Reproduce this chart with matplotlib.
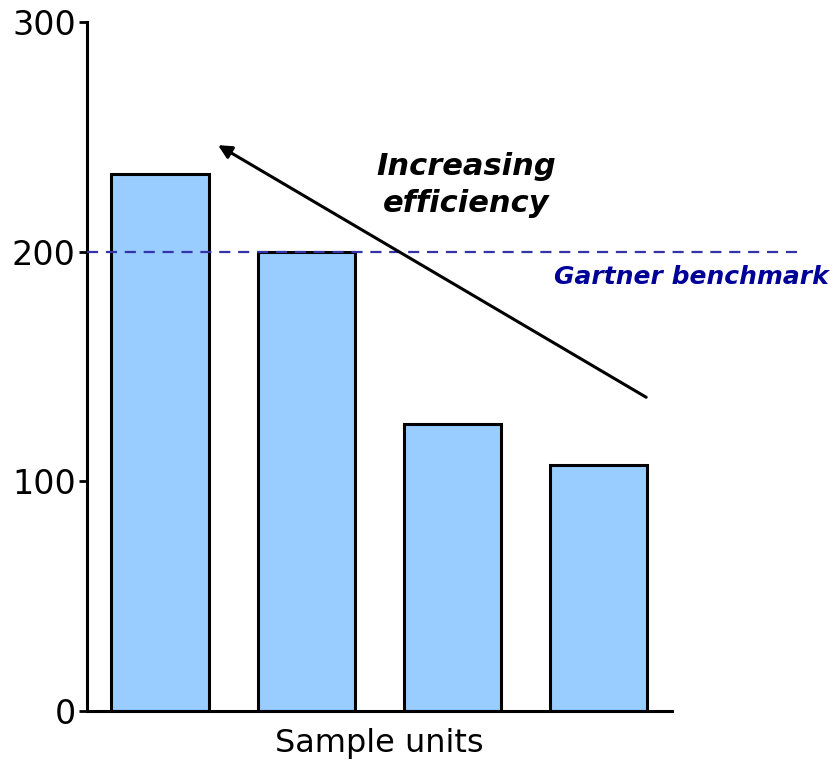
import matplotlib

matplotlib.use("Agg")
import matplotlib.pyplot as plt

# data
units = ["A", "B", "C", "D"]
values = [234, 200, 125, 107]
benchmark = 200
yticks = [0, 100, 200, 300]

fig = plt.figure(figsize=(8.33, 7.62), dpi=100)
ax = fig.add_axes([0.1044, 0.0669, 0.7023, 0.9042])

x = range(len(units))
ax.bar(x, values, width=0.665, color="#99CCFF", edgecolor="black", linewidth=2.2, zorder=2)

ax.set_xlim(-0.5, 3.5)
ax.set_ylim(0, 300)
ax.set_yticks(yticks)
ax.set_xticks([])
ax.tick_params(axis="y", labelsize=24, length=6, width=2, pad=2)
for s in ["top", "right"]:
    ax.spines[s].set_visible(False)
for s in ["left", "bottom"]:
    ax.spines[s].set_linewidth(2.2)

ax.set_xlabel("Sample units", fontsize=23, labelpad=12)

# benchmark line runs past the axes
ax.plot([-0.5, 4.38], [benchmark, benchmark], color="#3333AA", lw=1.6,
        dashes=(5, 3.5), clip_on=False, zorder=3)
ax.text(4.57, 189, "Gartner benchmark", color="#000099", fontsize=18,
        fontweight="bold", fontstyle="italic", ha="right", va="center")

ax.annotate("", xy=(0.38, 247), xytext=(3.34, 136),
            arrowprops=dict(arrowstyle="-|>,head_length=0.8,head_width=0.4",
                            color="black", lw=2.2), zorder=4)
ax.text(2.09, 229, "Increasing\nefficiency", fontsize=22, fontweight="bold",
        fontstyle="italic", ha="center", va="center", linespacing=1.35)

fig.savefig("out.png", dpi=100)
